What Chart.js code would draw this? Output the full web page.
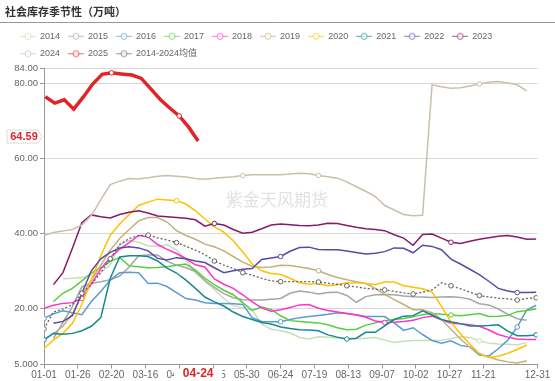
<!DOCTYPE html>
<html><head><meta charset="utf-8">
<script src="https://cdn.jsdelivr.net/npm/chart.js@4.4.1/dist/chart.umd.min.js"></script>
<style>html,body{margin:0;padding:0;background:#fff}#wrap{width:555px;height:381px}</style>
</head><body><div id="wrap"><canvas id="c" width="555" height="381"></canvas></div>
<script>
// ---------- data ----------
const chartTitle = '社会库存季节性（万吨）';
const watermark = '紫金天风期货';
const seriesNames = ['2014','2015','2016','2017','2018','2019','2020','2021','2022','2023','2024','2025','2014-2024均值'];
const xTickDates = ['01-01','01-26','02-20','03-16','04-10','05-05','05-30','06-24','07-19','08-13','09-07','10-02','10-27','11-21','12-31'];
const yTickValues = [5, 20, 40, 60, 80, 84];
const weekDates = ['01-01','01-08','01-15','01-22','01-29','02-05','02-12','02-19','02-26','03-04','03-11','03-18','03-25','04-01','04-08','04-15','04-22','04-29','05-06','05-13','05-20','05-27','06-03','06-10','06-17','06-24','07-01','07-08','07-15','07-22','07-29','08-05','08-12','08-19','08-26','09-02','09-09','09-16','09-23','09-30','10-07','10-14','10-21','10-28','11-04','11-11','11-18','11-25','12-02','12-09','12-16','12-23','12-30'];
const dates2025 = ['01-02','01-09','01-16','01-23','01-30','02-06','02-13','02-20','02-27','03-06','03-13','03-20','03-27','04-03','04-10','04-17','04-24'];

const v2014 = [null,null,27.9,28.0,28.2,28.7,29.5,31.5,37.0,38.1,37.6,36.7,36.5,37.0,35.5,33.0,29.5,27.2,25.0,22.6,20.7,20.1,19.5,15.8,14.4,14.0,13.4,12.2,11.8,12.4,12.3,12.0,11.8,11.8,12.0,12.2,11.5,10.9,11.2,11.4,11.4,11.4,11.5,11.9,12.4,12.2,11.3,10.7,10.5,10.4,10.2,10.9,null];
const v2015 = [null,12.0,16.2,20.5,25.7,26.7,27.1,27.6,28.6,31.0,34.0,34.2,34.2,32.5,31.5,30.8,29.8,27.4,25.6,23.9,22.8,22.3,22.2,22.2,22.4,22.6,24.0,24.6,24.3,23.8,24.2,24.3,23.4,21.6,23.1,23.6,23.7,23.6,23.3,23.1,23.0,22.9,23.0,23.1,22.9,22.4,21.2,20.9,19.8,18.4,17.2,16.8,null];
const v2016 = [17.3,18.5,19.3,18.8,18.3,21.8,24.5,27.5,29.5,29.6,29.5,26.6,26.7,25.8,24.2,22.6,22.2,21.5,21.3,21.3,21.2,21.0,17.5,16.5,16.4,16.4,17.0,17.5,17.8,18.1,18.4,18.8,18.6,18.3,17.8,17.8,17.8,16.1,14.1,14.8,13.0,11.4,10.7,11.3,10.1,9.7,7.5,7.3,9.2,11.5,15.0,19.5,20.8];
const v2017 = [null,21.8,24.0,25.3,27.3,29.4,30.8,32.5,33.5,31.3,31.1,30.8,30.9,31.1,31.5,31.8,30.2,28.0,26.3,24.8,23.6,21.5,19.4,20.3,19.7,18.0,16.7,16.5,16.3,16.1,15.6,14.8,14.3,14.4,15.5,16.1,16.7,17.0,17.3,17.7,18.3,18.6,18.4,18.2,18.0,18.3,18.6,17.8,17.9,18.1,19.1,19.4,19.8];
const v2018 = [20.0,20.8,21.3,21.5,22.6,26.5,30.5,33.5,35.8,37.5,39.4,39.0,37.0,35.7,34.6,33.2,31.6,31.0,27.8,26.4,25.3,23.6,21.7,20.1,19.2,19.6,20.2,20.9,21.0,20.0,19.4,19.0,18.6,18.2,17.6,16.6,16.2,16.3,16.5,16.8,17.5,17.9,16.9,16.0,15.9,15.6,15.2,14.2,13.0,12.3,11.8,11.7,11.7];
const v2019 = [null,13.2,15.2,18.5,23.5,27.5,31.5,35.5,38.6,41.0,43.3,44.2,44.2,43.0,40.7,39.4,38.4,37.1,36.4,35.3,33.8,32.3,31.2,30.9,31.0,31.5,31.4,31.0,30.6,30.0,29.0,28.2,27.6,27.1,26.6,25.3,23.7,22.3,21.0,19.6,19.6,18.8,17.0,14.4,11.8,9.6,7.9,7.0,6.2,5.7,5.4,6.0,null];
const v2020 = [9.2,11.6,13.3,16.0,21.0,27.5,34.0,39.5,42.5,45.0,47.4,48.3,49.1,48.9,48.7,47.8,46.0,43.8,41.7,40.3,38.0,35.0,31.8,30.0,29.3,29.0,28.0,26.8,26.4,26.6,26.0,26.3,26.8,26.8,26.6,26.3,27.0,27.0,26.0,25.6,25.2,24.3,20.5,16.3,13.2,10.4,7.9,6.9,7.2,8.0,9.0,10.2,null];
const v2021 = [11.6,13.3,13.1,13.3,14.0,15.2,17.5,28.0,33.7,34.0,34.0,33.8,32.6,30.7,29.4,27.5,25.3,23.0,21.7,20.6,19.0,17.8,17.0,16.2,15.8,15.0,14.6,14.3,14.2,14.0,12.9,12.3,11.8,12.0,13.6,13.6,15.3,17.0,17.9,18.0,19.3,18.2,17.0,16.4,15.9,15.3,15.3,15.4,15.6,13.9,12.7,12.7,12.9];
const v2022 = [null,16.0,16.5,18.0,24.0,30.0,33.2,34.9,36.1,36.4,36.1,35.3,33.3,32.9,33.5,33.2,32.6,32.2,30.8,29.5,30.0,30.4,30.6,33.0,33.4,33.8,35.2,36.2,36.3,35.7,35.6,35.6,35.3,34.9,34.5,34.7,35.1,36.1,36.0,34.8,36.8,36.5,35.6,33.1,31.8,30.4,29.0,27.2,25.3,24.6,24.2,24.2,24.3];
const v2023 = [null,26.3,29.5,36.0,42.8,44.9,44.4,44.1,45.0,45.6,46.0,45.4,44.6,44.4,44.2,44.0,43.6,41.9,42.6,42.2,41.0,40.0,40.3,41.2,42.2,42.5,42.3,42.1,42.0,42.2,42.7,42.6,42.1,41.6,41.2,41.0,40.7,39.6,38.7,36.8,39.7,39.8,38.7,37.6,37.3,37.9,38.4,38.8,39.2,39.4,39.0,38.4,38.5];
const v2024 = [39.4,40.2,40.6,41.0,42.2,44.7,48.9,53.0,53.9,54.6,54.5,54.8,55.2,55.4,55.2,55.0,54.6,54.4,54.7,54.9,55.1,55.4,55.6,55.6,55.6,55.6,55.8,56.0,55.9,55.4,55.1,54.7,53.7,52.4,51.2,49.8,47.4,46.2,45.0,44.7,44.8,79.6,79.1,78.7,78.8,79.3,79.8,80.3,80.5,80.1,79.6,78.0,null];
const v2025 = [76.4,74.7,75.6,73.1,76.3,79.8,82.4,82.8,82.5,82.2,81.3,78.5,75.7,73.4,71.3,68.3,64.59];
const vAvg = [14.5,19.0,19.8,21.0,24.0,26.3,29.5,33.2,37.0,38.6,39.4,39.5,38.8,38.2,37.5,36.5,35.5,34.3,32.6,31.5,30.6,29.5,28.8,28.0,27.3,27.1,27.1,27.1,27.1,27.0,26.7,26.4,26.0,25.7,25.3,25.1,24.9,24.5,24.1,23.8,24.3,24.9,26.8,26.0,25.2,24.3,23.4,23.0,22.7,22.5,22.2,22.6,22.8];

// ---------- styles ----------
const FONT = "'Liberation Sans', Arial, 'Noto Sans CJK SC', sans-serif";
const CJK = "'Noto Sans CJK SC', sans-serif";
const RED = '#e2232a';
const colors = ['#c5e0b4','#a6a6a6','#5b9bd5','#55d03c','#ff33cc','#c4b07d','#ffc000','#168a8e','#5a4aa6','#861a6c','#cbbeae','#e2232a','#666666'];
const widths = [1.5,1.5,1.5,1.5,1.5,1.5,1.5,1.5,1.5,1.5,1.5,3.5,1.3];
const markerIdx = [[46],[],[0,25,50],[43],[4,36],[29],[14],[0,32,52],[25,50],[18,43],[21,29,46],[7,14],[0,4,7,11,14,18,21,25,29,32,36,39,43,46,50,52]];

// ---------- helpers ----------
const cum = [0,31,60,91,121,152,182,213,244,274,305,335];
function dayOf(md){ const p = md.split('-').map(Number); return cum[p[0]-1] + p[1] - 1; }
function mdOf(day){ let m = 11; while (m > 0 && cum[m] > day) m--; const d = day - cum[m] + 1; return String(m+1).padStart(2,'0') + '-' + String(d).padStart(2,'0'); }

const allValues = [v2014,v2015,v2016,v2017,v2018,v2019,v2020,v2021,v2022,v2023,v2024,v2025,vAvg];
const datasets = allValues.map((vals, i) => {
  const dts = (i === 11) ? dates2025 : weekDates;
  const marks = new Set(markerIdx[i]);
  return {
    label: seriesNames[i],
    data: vals.map((v, k) => ({x: dayOf(dts[k]), y: v})),
    borderColor: colors[i],
    backgroundColor: '#fff',
    borderWidth: widths[i],
    borderDash: i === 12 ? [2, 2] : [],
    tension: 0,
    order: 100 - i,
    pointRadius: (c) => marks.has(c.dataIndex) ? 2.3 : 0,
    pointBackgroundColor: '#fff',
    pointBorderColor: colors[i],
    pointBorderWidth: 1,
    spanGaps: false
  };
});

function legendIcon(color){
  const c = document.createElement('canvas'); c.width = 16; c.height = 9;
  const g = c.getContext('2d'); g.globalAlpha = 0.7; g.strokeStyle = color; g.lineWidth = 1;
  g.beginPath(); g.moveTo(0, 4.5); g.lineTo(16, 4.5); g.stroke();
  g.beginPath(); g.arc(8, 4.5, 3, 0, Math.PI*2); g.fillStyle = '#fff'; g.fill(); g.stroke();
  return c;
}
const icons = colors.map(legendIcon);

const latestDate = dates2025[dates2025.length-1];
const latestValue = v2025[v2025.length-1];

const deco = {
  id: 'deco',
  beforeDatasetsDraw(chart){
    const ctx = chart.ctx; ctx.save();
    ctx.font = '17px ' + CJK; ctx.fillStyle = '#e2e2e2'; ctx.textAlign = 'center'; ctx.textBaseline = 'middle';
    ctx.fillText(watermark, 277, 200);
    ctx.restore();
  },
  afterDraw(chart){
    const ctx = chart.ctx; const xs = chart.scales.x, ys = chart.scales.y;
    ctx.save();
    ctx.font = 'bold 11px ' + CJK; ctx.fillStyle = '#333'; ctx.textAlign = 'left'; ctx.textBaseline = 'middle';
    ctx.fillText(chartTitle, 5, 12);
    ctx.strokeStyle = '#999'; ctx.lineWidth = 1;
    ctx.beginPath(); ctx.moveTo(0, 22.5); ctx.lineTo(555, 22.5); ctx.stroke();
    const px = xs.getPixelForValue(dayOf(latestDate));
    ctx.fillStyle = '#fff'; ctx.fillRect(px - 24, 369, 48, 12);
    ctx.font = 'bold 12px ' + FONT; ctx.fillStyle = RED; ctx.textAlign = 'center';
    ctx.fillText(latestDate, px, 374);
    const yl = ys.getPixelForValue(latestValue) - 4.5;
    ctx.beginPath(); ctx.moveTo(7, yl-6.5); ctx.lineTo(38, yl-6.5); ctx.lineTo(42, yl); ctx.lineTo(38, yl+6.5); ctx.lineTo(7, yl+6.5); ctx.closePath();
    ctx.fillStyle = '#fff'; ctx.fill(); ctx.strokeStyle = '#dcdcdc'; ctx.stroke();
    ctx.font = 'bold 11px ' + FONT; ctx.fillStyle = RED; ctx.textAlign = 'center';
    ctx.fillText(latestValue.toFixed(2), 24, yl + 0.5);
    ctx.restore();
  }
};

new Chart(document.getElementById('c'), {
  type: 'line',
  data: { datasets },
  options: {
    responsive: false, animation: false, devicePixelRatio: 1,
    layout: { padding: { left: 12, right: 10, top: 17.7, bottom: 0 } },
    plugins: {
      title: { display: false }, tooltip: { enabled: false },
      legend: {
        position: 'top', align: 'start',
        labels: {
          usePointStyle: true, pointStyleWidth: 15, padding: 8.5, color: '#666',
          font: { size: 9, family: FONT },
          generateLabels: (chart) => chart.data.datasets.map((ds, i) => ({
            text: ds.label, pointStyle: icons[i], fillStyle: '#fff', strokeStyle: colors[i],
            lineWidth: 0, hidden: false, datasetIndex: i, fontColor: '#666'
          }))
        }
      }
    },
    scales: {
      x: {
        type: 'linear', min: 0, max: 365,
        afterBuildTicks: (s) => { s.ticks = xTickDates.map(d => ({ value: dayOf(d) })); },
        afterFit: (s) => { s.height = 16.5; s.paddingRight = 17.5; },
        ticks: { autoSkip: false, maxRotation: 0, padding: 1, color: '#666', font: { size: 10, family: FONT }, callback: (v) => mdOf(v) },
        grid: { drawOnChartArea: false, drawTicks: true, tickLength: 4, tickColor: '#999' },
        border: { color: '#999' }
      },
      y: {
        type: 'linear', min: 5, max: 84,
        afterBuildTicks: (s) => { s.ticks = yTickValues.map(v => ({ value: v })); },
        afterFit: (s) => { s.width = 32; s.paddingTop = 68.3; },
        ticks: { color: '#666', padding: 2, font: { size: 9.5, family: FONT }, callback: (v) => Number(v).toPrecision(4) },
        grid: { color: '#d6d6d6', tickLength: 4, tickColor: '#999' },
        border: { color: '#999' }
      }
    }
  },
  plugins: [deco]
});
</script>
</body></html>
